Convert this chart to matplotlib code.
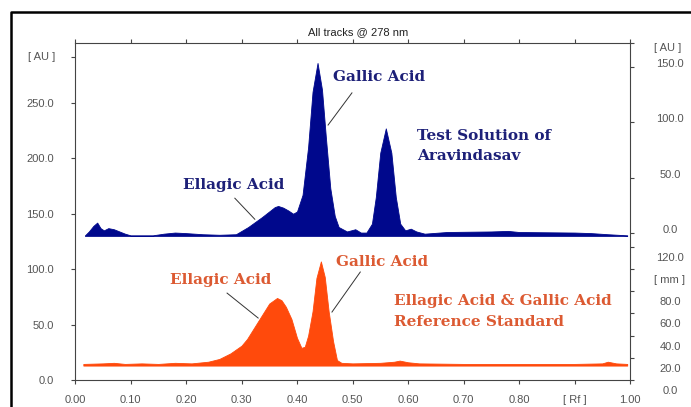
import matplotlib
matplotlib.use("Agg")
import matplotlib.pyplot as plt
import matplotlib.transforms as mtransforms
from matplotlib.lines import Line2D

# densitogram readings (left axis units, AU)
test_rf = [0.018, 0.025, 0.033, 0.040, 0.046, 0.052, 0.060, 0.070, 0.080, 0.090,
           0.100, 0.140, 0.160, 0.180, 0.200, 0.230, 0.260, 0.290, 0.312, 0.337,
           0.360, 0.366, 0.375, 0.384, 0.393, 0.400, 0.410, 0.420, 0.428, 0.437,
           0.445, 0.452, 0.460, 0.468, 0.475, 0.490, 0.505, 0.515, 0.525, 0.535,
           0.542, 0.550, 0.560, 0.570, 0.578, 0.586, 0.595, 0.605, 0.615, 0.630,
           0.670, 0.750, 0.780, 0.800, 0.900, 0.930, 0.960, 0.995]
test_au = [130.5, 134, 139, 142, 137, 135, 137, 136, 134, 132,
           130.5, 130.5, 132, 133, 132.5, 131.5, 131, 131.5, 138, 147,
           156, 157, 155.5, 153, 150, 152, 167, 210, 260, 286,
           262, 219, 173, 148, 138, 134, 136, 133, 133, 141,
           165, 205, 227, 205, 165, 141, 135, 136.5, 134, 132,
           133.5, 134, 134.5, 133.5, 133, 132.5, 131.5, 130.5]

ref_rf = [0.015, 0.050, 0.070, 0.090, 0.120, 0.150, 0.180, 0.210, 0.240, 0.260,
          0.280, 0.300, 0.310, 0.320, 0.335, 0.350, 0.364, 0.372, 0.380, 0.390,
          0.400, 0.408, 0.414, 0.420, 0.428, 0.435, 0.443, 0.450, 0.457, 0.465,
          0.472, 0.480, 0.500, 0.550, 0.575, 0.585, 0.600, 0.620, 0.700, 0.800,
          0.900, 0.950, 0.960, 0.975, 0.995]
ref_au = [14.5, 15, 15.5, 14.5, 15, 14.5, 15.5, 15, 16.5, 19,
          24, 31, 37, 45, 57, 69, 74, 72, 66, 55,
          38, 29, 30, 40, 62, 92, 107, 93, 62, 35,
          18, 15.5, 15, 15.5, 16.5, 17.5, 16, 15, 14.5, 14.5,
          14.5, 15, 16.5, 15, 14.5]

test_base = 130
ref_base = 13

x_ticks = [0.0, 0.1, 0.2, 0.3, 0.4, 0.5, 0.6, 0.7, 0.8, 0.9, 1.0]
x_labels = ["0.00", "0.10", "0.20", "0.30", "0.40", "0.50", "0.60", "0.70", "0.80", "[ Rf ]", "1.00"]
left_ticks = [0, 50, 100, 150, 200, 250]
left_labels = ["0.0", "50.0", "100.0", "150.0", "200.0", "250.0"]
upper_right_zero = 132.4
upper_right_vals = [0, 50, 100, 150]
lower_right_vals = [0, 20, 40, 60, 80, 100, 120]
lower_right_labels = ["0.0", "20.0", "40.0", "60.0", "80.0", "[ mm ]", "120.0"]

blue = "#00088c"
orange = "#ff4a0c"
blue_txt = "#1d2078"
orange_txt = "#dc5a32"
gray = "#555555"

fig = plt.figure(figsize=(6.91, 4.07), dpi=100)
ax = fig.add_axes([75 / 691, 27 / 407, 555 / 691, 337 / 407])

ax.fill_between(test_rf, test_base, test_au, color=blue, lw=0.6, edgecolor=blue)
ax.fill_between(ref_rf, ref_base, ref_au, color=orange, lw=0.6, edgecolor=orange)

ax.set_xlim(0, 1)
ax.set_ylim(0, 304)

for s in ax.spines.values():
    s.set_color("#444444")
    s.set_linewidth(0.8)

ax.set_xticks(x_ticks)
ax.set_xticklabels(x_labels)
ax.set_yticks(left_ticks + [291])
ax.set_yticklabels(left_labels + [""])
ax.tick_params(axis="x", which="both", direction="out", length=3, width=0.8,
               color="#444444", labelcolor=gray, labelsize=8, pad=8, top=True)
ax.tick_params(axis="y", direction="out", length=3, width=0.8,
               color="#444444", labelcolor=gray, labelsize=8, pad=12)
for lbl in ax.get_xticklabels() + ax.get_yticklabels():
    lbl.set_fontfamily("Liberation Sans")

ytrans = ax.get_yaxis_transform()
t = mtransforms.offset_copy(ytrans, fig=fig, x=-33, y=0, units="dots")
ax.text(0.0, 291, "[ AU ]", transform=t, ha="center", va="center",
        fontsize=8, color=gray, family="Liberation Sans", clip_on=False)

# right-hand scales: tick marks on a twin axis, labels as text
ax2 = ax.twinx()
ax2.set_ylim(ax.get_ylim())
right_ticks = [upper_right_zero + v for v in upper_right_vals] + lower_right_vals + [304]
ax2.set_yticks(right_ticks)
ax2.set_yticklabels([])
ax2.tick_params(axis="y", direction="out", length=3, width=0.8, color="#444444")
for s in ax2.spines.values():
    s.set_visible(False)

for v in upper_right_vals:
    t = mtransforms.offset_copy(ytrans, fig=fig, x=40, y=3, units="dots")
    ax.text(1.0, upper_right_zero + v, "%.1f" % v, transform=t, ha="center", va="center",
            fontsize=8, color=gray, family="Liberation Sans", clip_on=False)
t = mtransforms.offset_copy(ytrans, fig=fig, x=38, y=-5, units="dots")
ax.text(1.0, 304, "[ AU ]", transform=t, ha="center", va="center",
        fontsize=8, color=gray, family="Liberation Sans", clip_on=False)
for v, lab in zip(lower_right_vals, lower_right_labels):
    t = mtransforms.offset_copy(ytrans, fig=fig, x=40, y=-11, units="dots")
    ax.text(1.0, v, lab, transform=t, ha="center", va="center",
            fontsize=8, color=gray, family="Liberation Sans", clip_on=False)

fig.text(358 / 691, 1 - 32 / 407, "All tracks @ 278 nm", ha="center", va="center",
         fontsize=8, color="#222222", family="Liberation Sans")

# peak annotations
lbl_kw = dict(fontsize=11, fontweight="bold", family="DejaVu Serif", va="center", ha="left")
ax.text(0.465, 273, "Gallic Acid", color=blue_txt, **lbl_kw)
ax.plot([0.499, 0.456], [259, 230], color="#333333", lw=0.7)
ax.text(0.195, 176, "Ellagic Acid", color=blue_txt, **lbl_kw)
ax.plot([0.288, 0.324], [164, 145], color="#333333", lw=0.7)
ax.text(0.616, 211, "Test Solution of\nAravindasav", color=blue_txt, linespacing=1.6, **lbl_kw)

ax.text(0.171, 90, "Ellagic Acid", color=orange_txt, **lbl_kw)
ax.plot([0.274, 0.330], [78.4, 55.9], color="#333333", lw=0.7)
ax.text(0.470, 106.4, "Gallic Acid", color=orange_txt, **lbl_kw)
ax.plot([0.514, 0.463], [97.4, 61.3], color="#333333", lw=0.7)
ax.text(0.575, 62, "Ellagic Acid & Gallic Acid\nReference Standard", color=orange_txt,
        linespacing=1.6, **lbl_kw)

# outer frame (top and left edges)
fig.add_artist(Line2D([11 / 691, 11 / 691, 1.0], [0.0, 1 - 12 / 407, 1 - 12 / 407],
                      transform=fig.transFigure, color="black", lw=1.8))

fig.savefig("out.png", dpi=100)
